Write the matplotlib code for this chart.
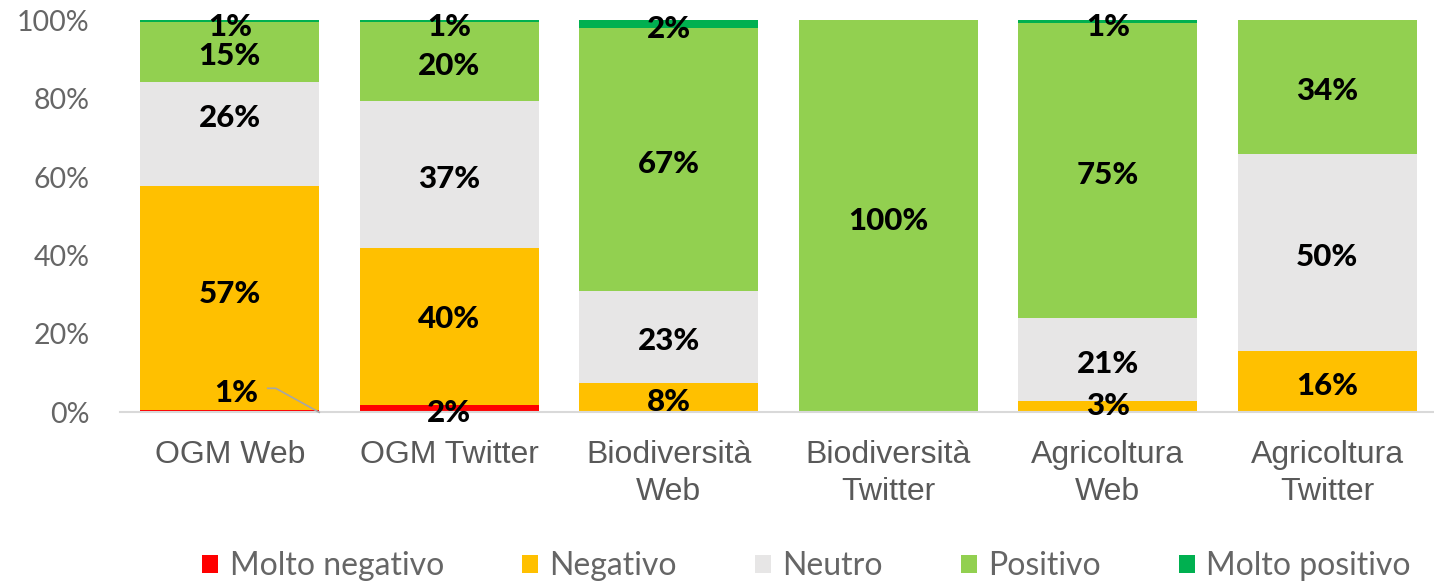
import matplotlib
matplotlib.use("Agg")
import matplotlib.pyplot as plt
from matplotlib.patches import Patch

categories = ["OGM Web", "OGM Twitter", "Biodiversità\nWeb", "Biodiversità\nTwitter",
              "Agricoltura\nWeb", "Agricoltura\nTwitter"]
series_names = ["Molto negativo", "Negativo", "Neutro", "Positivo", "Molto positivo"]
molto_negativo = [0.5, 1.9, 0.0, 0.0, 0.0, 0.0]
negativo = [57.3, 40.0, 7.6, 0.0, 2.8, 15.7]
neutro = [26.4, 37.4, 23.3, 0.0, 21.2, 50.2]
positivo = [15.3, 20.2, 67.2, 100.0, 75.3, 34.1]
molto_positivo = [0.5, 0.5, 1.9, 0.0, 0.7, 0.0]
colors = ["#FF0000", "#FFC000", "#E7E6E6", "#92D050", "#00B050"]
yticks = [0, 20, 40, 60, 80, 100]
ytick_labels = ["0%", "20%", "40%", "60%", "80%", "100%"]

series = [molto_negativo, negativo, neutro, positivo, molto_positivo]

W, H = 1434, 582
fig = plt.figure(figsize=(W / 100, H / 100), dpi=100)
ax = fig.add_axes([120 / W, (H - 412.3) / H, 1317 / W, 392 / H])

x = list(range(len(categories)))
bw = 0.815
bottoms = [0.0] * len(categories)
for vals, col in zip(series, colors):
    ax.bar(x, vals, bw, bottom=bottoms, color=col, edgecolor="none", zorder=2)
    bottoms = [b + v for b, v in zip(bottoms, vals)]

ax.set_xlim(-0.5, len(categories) - 0.5)
ax.set_ylim(0, 100)

# label offsets in pixels (positive = downward) relative to segment centre
default_off = 2.0
overrides = {(0, 1): -6, (0, 2): -18, (1, 1): -9.5, (4, 1): -3,
             (0, 4): 3.7, (1, 4): 3.7, (2, 4): 3, (4, 4): 3.3}
LFS = 22.5
label_font = dict(family="Lato", weight="black", size=LFS, color="black")
cap_px = LFS * 100 / 72 * 0.72

bottoms = [0.0] * len(categories)
for si, vals in enumerate(series):
    for ci, v in enumerate(vals):
        if v <= 0:
            continue
        txt = f"{int(v + 0.5)}%"
        centre = bottoms[ci] + v / 2
        if (ci, si) == (0, 0):
            # manually placed label with leader line
            lx, ly_px = ci + 0.03, -22.0
            ax.annotate(txt, (lx, 0), xytext=(0, (-ly_px - cap_px / 2) * 0.72),
                        textcoords="offset points", ha="center", va="baseline",
                        **label_font, zorder=5)
            continue
        off = overrides.get((ci, si), default_off)
        ax.annotate(txt, (ci, centre), xytext=(0, (-off - cap_px / 2) * 0.72),
                    textcoords="offset points", ha="center", va="baseline",
                    **label_font, zorder=5)
    bottoms = [b + v for b, v in zip(bottoms, vals)]

# leader line for the small OGM Web label
px2x = 1 / 219.4
px2y = 100 / 392
ax.plot([0 + 38 * px2x, 0 + 46 * px2x, 0 + bw / 2],
        [24 * px2y, 24 * px2y, 0], color="#A6A6A6", lw=1.2, zorder=4, clip_on=False)

for s in ["left", "right", "top"]:
    ax.spines[s].set_visible(False)
ax.spines["bottom"].set_color("#D9D9D9")
ax.spines["bottom"].set_linewidth(1.5)
ax.spines["bottom"].set_zorder(3)

ax.set_yticks(yticks)
ax.set_yticklabels(ytick_labels, family="Lato", fontsize=20.5, color="#666666")
ax.tick_params(axis="y", length=0, pad=22)
ax.set_xticks(x)
ax.set_xticklabels(categories, family="Liberation Sans", fontsize=23,
                   color="#595959", linespacing=1.3)
ax.tick_params(axis="x", length=0, pad=20)

handles = [Patch(facecolor=c, edgecolor="none") for c in colors]
leg = fig.legend(handles, series_names, loc="center", bbox_to_anchor=(806.5 / W, 16 / H),
                 ncol=5, frameon=False, handlelength=0.5, handleheight=0.5,
                 handletextpad=0.35, columnspacing=2.45,
                 prop=dict(family="Lato", size=23))
for t in leg.get_texts():
    t.set_color("#666666")

fig.savefig("out.png", dpi=100)
